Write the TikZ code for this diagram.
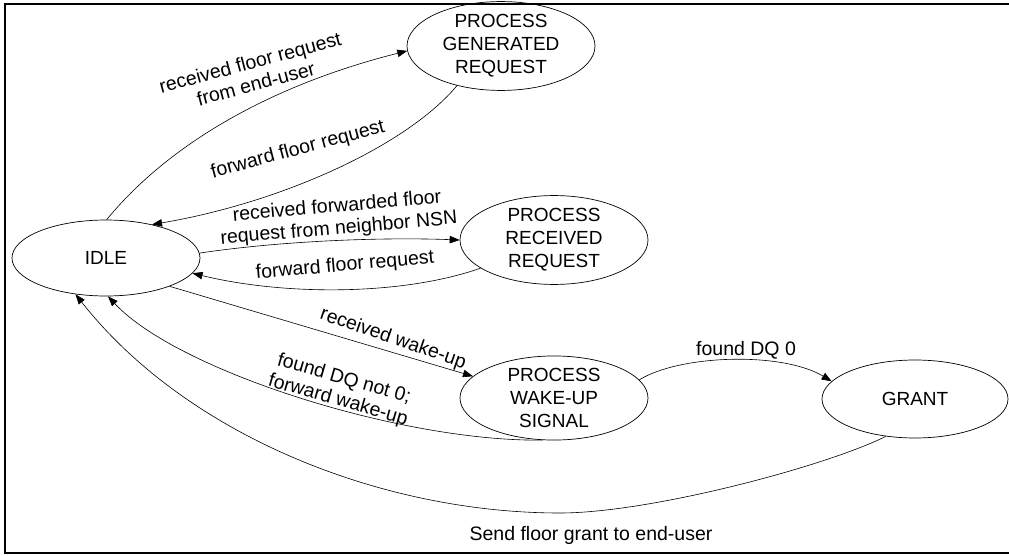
\documentclass[tikz,border=0pt]{standalone}
\usepackage{fontspec}
\setmainfont{Liberation Sans}
\usetikzlibrary{shapes.geometric,arrows.meta}
\begin{document}
\begin{tikzpicture}[x=1pt,y=-1pt,
  state/.style={ellipse,draw,line width=0.7pt,minimum width=188pt,minimum height=80pt,
    inner sep=0pt,align=center,font=\fontsize{19}{23}\selectfont},
  lbl/.style={align=center,font=\fontsize{19.5}{22}\selectfont,inner sep=0pt},
  trans/.style={draw,line width=0.6pt,-{Triangle[length=10pt,width=7.5pt]}}]
\useasboundingbox (0,0) rectangle (1009,556);
% frame (open on the right)
\draw[line width=1.6pt] (1009,4) -- (5,4) -- (5,553) -- (1009,553);

% states
\node[state,minimum height=76pt] (idle) at (106,258) {IDLE};
\node[state] (pgr) at (501,46) {PROCESS\\GENERATED\\REQUEST};
\node[state] (prr) at (554,240) {PROCESS\\RECEIVED\\REQUEST};
\node[state] (pws) at (554,398) {PROCESS\\WAKE-UP\\SIGNAL};
\node[state,minimum width=186pt,minimum height=78pt] (grant) at (915,399) {GRANT};

% transitions
\draw[trans] (idle.89) .. controls +(70,-85) and +(-120,30) .. (pgr.183);
\draw[trans] (pgr.222) .. controls +(-50,60) and +(130,-22) .. (idle.36);
\draw[trans] (idle.3) .. controls +(80,-12) and +(-80,-3) .. (prr.180);
\draw[trans] (prr.201) .. controls +(-80,28) and +(90,22) .. (idle.-10);
\draw[trans] (idle.-24) -- (pws.165);
\draw[trans] (pws.255) .. controls +(-140,2) and +(70,75) .. (idle.-87);
\draw[trans] (pws.12) .. controls +(40,-25) and +(-50,-30) .. (grant.168);
\coordinate (low) at (560,513);
\draw[trans] (grant.-128) .. controls +(-60,30) and +(90,0) .. (low)
  .. controls +(-180,0) and +(110,140) .. (idle.-130);

% transition labels
\node[lbl,rotate=15] (l1) at (253,73) {received floor request\\from end-user};
\node[lbl,rotate=15] (l2) at (298,150) {forward floor request};
\node[lbl,rotate=5] (l3) at (338,218) {received forwarded floor\\request from neighbor NSN};
\node[lbl,rotate=5] (l4) at (345,266) {forward floor request};
\node[lbl,rotate=-19] (l5) at (393,339) {received wake-up};
\node[lbl,rotate=-16] (l6) at (341,390) {found DQ not 0;\\forward wake-up};
\node[lbl] (l7) at (746,350) {found DQ 0};
\node[lbl] (l8) at (591,535) {Send floor grant to end-user};
\end{tikzpicture}
\end{document}
